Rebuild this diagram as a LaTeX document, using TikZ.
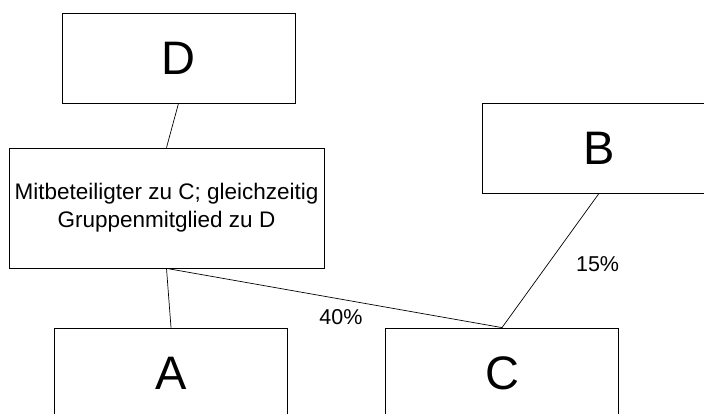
\documentclass[tikz,border=0pt]{standalone}
\usepackage{fontspec}
\setmainfont{Liberation Sans}
\usepackage{tikz}
\usetikzlibrary{positioning}

\begin{document}
\begin{tikzpicture}[
          x=1pt, y=-1pt,
          box/.style={draw, line width=0.8pt, minimum width=233pt, minimum height=90pt, inner sep=0pt, align=center, font=\fontsize{47}{56}\selectfont},
          wide/.style={box, minimum width=315pt, minimum height=120pt, font=\fontsize{22.5}{28}\selectfont},
          conn/.style={line width=0.7pt},
          pct/.style={font=\fontsize{21.5}{26}\selectfont, inner sep=0pt}
      ]
        \useasboundingbox (0,0) rectangle (704,413);
        \clip (0,0) rectangle (704,413);
        \node[box] (D) at (178.5,58) {D};
        \node[wide] (mit) at (166.5,208) {Mitbeteiligter zu C; gleichzeitig\\Gruppenmitglied zu D};
        \node[box] (B) at (599,148) {B};
        \node[box] (A) at (171,373) {A};
        \node[box] (C) at (502,373) {C};
        \draw[conn] (D.south) -- (mit.north);
        \draw[conn] (mit.south) -- (A.north);
        \draw[conn] (mit.south) -- node[pct, pos=0.52, yshift=-18pt] (p40) {40\%} (C.north);
        \draw[conn] (B.south) -- node[pct, pos=0.53, xshift=50pt] (p15) {15\%} (C.north);
      \end{tikzpicture}
\end{document}
